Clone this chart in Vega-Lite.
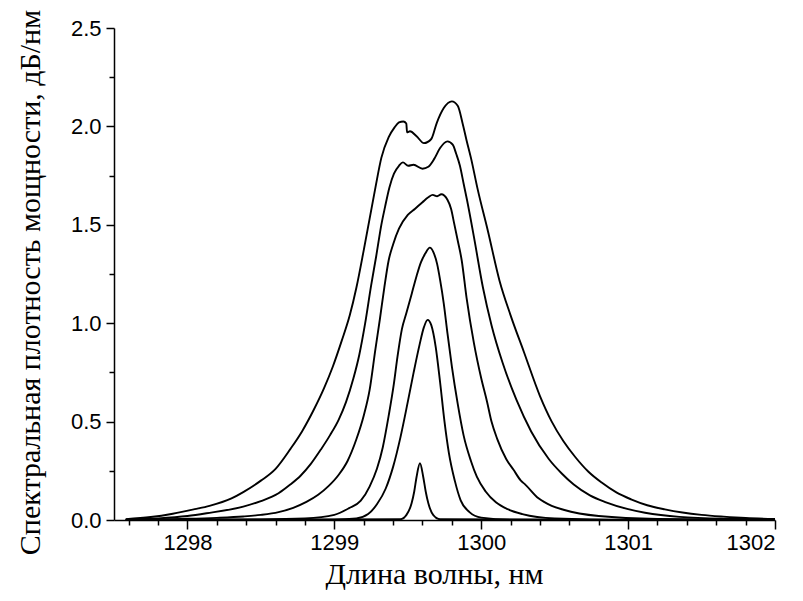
{
  "$schema": "https://vega.github.io/schema/vega-lite/v6.json",
  "width": 661,
  "height": 492,
  "autosize": {"type": "none"},
  "padding": {"left": 114, "top": 28, "right": 28, "bottom": 81},
  "background": "white",
  "config": {"view": {"stroke": null}},
  "data": {"values": [
    {"s": 6, "x": 1297.58, "y": 0.004}, {"s": 6, "x": 1297.75, "y": 0.015}, {"s": 6, "x": 1297.9, "y": 0.032}, {"s": 6, "x": 1298.05, "y": 0.055}, {"s": 6, "x": 1298.15, "y": 0.072}, {"s": 6, "x": 1298.3, "y": 0.11}, {"s": 6, "x": 1298.38, "y": 0.142}, {"s": 6, "x": 1298.5, "y": 0.2}, {"s": 6, "x": 1298.6, "y": 0.26}, {"s": 6, "x": 1298.7, "y": 0.36}, {"s": 6, "x": 1298.78, "y": 0.45}, {"s": 6, "x": 1298.86, "y": 0.56}, {"s": 6, "x": 1298.93, "y": 0.67}, {"s": 6, "x": 1298.99, "y": 0.78}, {"s": 6, "x": 1299.05, "y": 0.91}, {"s": 6, "x": 1299.105, "y": 1.04}, {"s": 6, "x": 1299.15, "y": 1.18}, {"s": 6, "x": 1299.2, "y": 1.37}, {"s": 6, "x": 1299.24, "y": 1.53}, {"s": 6, "x": 1299.28, "y": 1.69}, {"s": 6, "x": 1299.32, "y": 1.84}, {"s": 6, "x": 1299.37, "y": 1.945}, {"s": 6, "x": 1299.41, "y": 1.995}, {"s": 6, "x": 1299.44, "y": 2.02}, {"s": 6, "x": 1299.47, "y": 2.025}, {"s": 6, "x": 1299.49, "y": 2.015}, {"s": 6, "x": 1299.495, "y": 1.97}, {"s": 6, "x": 1299.515, "y": 1.975}, {"s": 6, "x": 1299.56, "y": 1.95}, {"s": 6, "x": 1299.61, "y": 1.915}, {"s": 6, "x": 1299.66, "y": 1.936}, {"s": 6, "x": 1299.697, "y": 2.017}, {"s": 6, "x": 1299.745, "y": 2.093}, {"s": 6, "x": 1299.8, "y": 2.127}, {"s": 6, "x": 1299.84, "y": 2.105}, {"s": 6, "x": 1299.875, "y": 2.01}, {"s": 6, "x": 1299.9, "y": 1.93}, {"s": 6, "x": 1299.93, "y": 1.84}, {"s": 6, "x": 1299.976, "y": 1.68}, {"s": 6, "x": 1300.045, "y": 1.47}, {"s": 6, "x": 1300.125, "y": 1.215}, {"s": 6, "x": 1300.2, "y": 1.04}, {"s": 6, "x": 1300.29, "y": 0.855}, {"s": 6, "x": 1300.4, "y": 0.63}, {"s": 6, "x": 1300.48, "y": 0.5}, {"s": 6, "x": 1300.56, "y": 0.4}, {"s": 6, "x": 1300.64, "y": 0.32}, {"s": 6, "x": 1300.73, "y": 0.245}, {"s": 6, "x": 1300.82, "y": 0.19}, {"s": 6, "x": 1300.92, "y": 0.14}, {"s": 6, "x": 1301.02, "y": 0.105}, {"s": 6, "x": 1301.13, "y": 0.075}, {"s": 6, "x": 1301.25, "y": 0.054}, {"s": 6, "x": 1301.37, "y": 0.038}, {"s": 6, "x": 1301.5, "y": 0.026}, {"s": 6, "x": 1301.65, "y": 0.017}, {"s": 6, "x": 1301.8, "y": 0.01}, {"s": 6, "x": 1302.0, "y": 0.005},
    {"s": 5, "x": 1297.58, "y": 0.002}, {"s": 5, "x": 1297.8, "y": 0.008}, {"s": 5, "x": 1298.0, "y": 0.02}, {"s": 5, "x": 1298.13, "y": 0.034}, {"s": 5, "x": 1298.38, "y": 0.068}, {"s": 5, "x": 1298.5, "y": 0.096}, {"s": 5, "x": 1298.62, "y": 0.136}, {"s": 5, "x": 1298.7, "y": 0.18}, {"s": 5, "x": 1298.77, "y": 0.225}, {"s": 5, "x": 1298.84, "y": 0.285}, {"s": 5, "x": 1298.91, "y": 0.36}, {"s": 5, "x": 1298.97, "y": 0.43}, {"s": 5, "x": 1299.03, "y": 0.51}, {"s": 5, "x": 1299.08, "y": 0.6}, {"s": 5, "x": 1299.13, "y": 0.72}, {"s": 5, "x": 1299.17, "y": 0.84}, {"s": 5, "x": 1299.21, "y": 1.0}, {"s": 5, "x": 1299.25, "y": 1.19}, {"s": 5, "x": 1299.285, "y": 1.34}, {"s": 5, "x": 1299.32, "y": 1.5}, {"s": 5, "x": 1299.345, "y": 1.59}, {"s": 5, "x": 1299.375, "y": 1.69}, {"s": 5, "x": 1299.406, "y": 1.76}, {"s": 5, "x": 1299.44, "y": 1.8}, {"s": 5, "x": 1299.467, "y": 1.817}, {"s": 5, "x": 1299.503, "y": 1.8}, {"s": 5, "x": 1299.539, "y": 1.805}, {"s": 5, "x": 1299.6, "y": 1.785}, {"s": 5, "x": 1299.64, "y": 1.795}, {"s": 5, "x": 1299.68, "y": 1.835}, {"s": 5, "x": 1299.72, "y": 1.89}, {"s": 5, "x": 1299.77, "y": 1.924}, {"s": 5, "x": 1299.806, "y": 1.907}, {"s": 5, "x": 1299.83, "y": 1.86}, {"s": 5, "x": 1299.855, "y": 1.8}, {"s": 5, "x": 1299.88, "y": 1.71}, {"s": 5, "x": 1299.903, "y": 1.627}, {"s": 5, "x": 1299.95, "y": 1.44}, {"s": 5, "x": 1300.012, "y": 1.18}, {"s": 5, "x": 1300.07, "y": 0.99}, {"s": 5, "x": 1300.145, "y": 0.8}, {"s": 5, "x": 1300.24, "y": 0.61}, {"s": 5, "x": 1300.34, "y": 0.45}, {"s": 5, "x": 1300.46, "y": 0.31}, {"s": 5, "x": 1300.55, "y": 0.235}, {"s": 5, "x": 1300.63, "y": 0.18}, {"s": 5, "x": 1300.74, "y": 0.125}, {"s": 5, "x": 1300.85, "y": 0.09}, {"s": 5, "x": 1301.0, "y": 0.055}, {"s": 5, "x": 1301.115, "y": 0.037}, {"s": 5, "x": 1301.35, "y": 0.016}, {"s": 5, "x": 1301.7, "y": 0.006}, {"s": 5, "x": 1302.0, "y": 0.003},
    {"s": 4, "x": 1297.58, "y": 0.001}, {"s": 4, "x": 1298.0, "y": 0.006}, {"s": 4, "x": 1298.2, "y": 0.011}, {"s": 4, "x": 1298.38, "y": 0.018}, {"s": 4, "x": 1298.5, "y": 0.026}, {"s": 4, "x": 1298.62, "y": 0.04}, {"s": 4, "x": 1298.72, "y": 0.062}, {"s": 4, "x": 1298.81, "y": 0.092}, {"s": 4, "x": 1298.89, "y": 0.128}, {"s": 4, "x": 1298.96, "y": 0.172}, {"s": 4, "x": 1299.03, "y": 0.23}, {"s": 4, "x": 1299.09, "y": 0.3}, {"s": 4, "x": 1299.15, "y": 0.41}, {"s": 4, "x": 1299.2, "y": 0.53}, {"s": 4, "x": 1299.24, "y": 0.66}, {"s": 4, "x": 1299.28, "y": 0.87}, {"s": 4, "x": 1299.31, "y": 1.02}, {"s": 4, "x": 1299.34, "y": 1.18}, {"s": 4, "x": 1299.37, "y": 1.32}, {"s": 4, "x": 1299.4, "y": 1.4}, {"s": 4, "x": 1299.44, "y": 1.48}, {"s": 4, "x": 1299.5, "y": 1.55}, {"s": 4, "x": 1299.55, "y": 1.582}, {"s": 4, "x": 1299.6, "y": 1.615}, {"s": 4, "x": 1299.64, "y": 1.64}, {"s": 4, "x": 1299.67, "y": 1.652}, {"s": 4, "x": 1299.7, "y": 1.645}, {"s": 4, "x": 1299.728, "y": 1.655}, {"s": 4, "x": 1299.77, "y": 1.627}, {"s": 4, "x": 1299.795, "y": 1.58}, {"s": 4, "x": 1299.815, "y": 1.51}, {"s": 4, "x": 1299.84, "y": 1.42}, {"s": 4, "x": 1299.867, "y": 1.32}, {"s": 4, "x": 1299.9, "y": 1.13}, {"s": 4, "x": 1299.95, "y": 0.9}, {"s": 4, "x": 1300.0, "y": 0.72}, {"s": 4, "x": 1300.04, "y": 0.6}, {"s": 4, "x": 1300.07, "y": 0.5}, {"s": 4, "x": 1300.11, "y": 0.41}, {"s": 4, "x": 1300.17, "y": 0.31}, {"s": 4, "x": 1300.22, "y": 0.255}, {"s": 4, "x": 1300.27, "y": 0.2}, {"s": 4, "x": 1300.3, "y": 0.18}, {"s": 4, "x": 1300.39, "y": 0.11}, {"s": 4, "x": 1300.48, "y": 0.072}, {"s": 4, "x": 1300.56, "y": 0.052}, {"s": 4, "x": 1300.8, "y": 0.02}, {"s": 4, "x": 1301.2, "y": 0.005}, {"s": 4, "x": 1302.0, "y": 0.001},
    {"s": 3, "x": 1297.58, "y": 0.0}, {"s": 3, "x": 1298.5, "y": 0.003}, {"s": 3, "x": 1298.8, "y": 0.008}, {"s": 3, "x": 1299.0, "y": 0.026}, {"s": 3, "x": 1299.1, "y": 0.06}, {"s": 3, "x": 1299.18, "y": 0.098}, {"s": 3, "x": 1299.24, "y": 0.17}, {"s": 3, "x": 1299.29, "y": 0.26}, {"s": 3, "x": 1299.33, "y": 0.37}, {"s": 3, "x": 1299.37, "y": 0.53}, {"s": 3, "x": 1299.405, "y": 0.69}, {"s": 3, "x": 1299.43, "y": 0.83}, {"s": 3, "x": 1299.46, "y": 0.97}, {"s": 3, "x": 1299.49, "y": 1.05}, {"s": 3, "x": 1299.527, "y": 1.15}, {"s": 3, "x": 1299.56, "y": 1.24}, {"s": 3, "x": 1299.59, "y": 1.31}, {"s": 3, "x": 1299.62, "y": 1.355}, {"s": 3, "x": 1299.65, "y": 1.384}, {"s": 3, "x": 1299.675, "y": 1.36}, {"s": 3, "x": 1299.7, "y": 1.3}, {"s": 3, "x": 1299.72, "y": 1.22}, {"s": 3, "x": 1299.745, "y": 1.1}, {"s": 3, "x": 1299.77, "y": 0.95}, {"s": 3, "x": 1299.8, "y": 0.78}, {"s": 3, "x": 1299.84, "y": 0.59}, {"s": 3, "x": 1299.88, "y": 0.43}, {"s": 3, "x": 1299.93, "y": 0.3}, {"s": 3, "x": 1299.97, "y": 0.22}, {"s": 3, "x": 1300.03, "y": 0.145}, {"s": 3, "x": 1300.1, "y": 0.09}, {"s": 3, "x": 1300.18, "y": 0.055}, {"s": 3, "x": 1300.28, "y": 0.03}, {"s": 3, "x": 1300.5, "y": 0.008}, {"s": 3, "x": 1301.0, "y": 0.001}, {"s": 3, "x": 1302.0, "y": 0.0},
    {"s": 2, "x": 1297.58, "y": 0.0}, {"s": 2, "x": 1299.0, "y": 0.002}, {"s": 2, "x": 1299.15, "y": 0.008}, {"s": 2, "x": 1299.23, "y": 0.03}, {"s": 2, "x": 1299.29, "y": 0.08}, {"s": 2, "x": 1299.35, "y": 0.16}, {"s": 2, "x": 1299.4, "y": 0.27}, {"s": 2, "x": 1299.45, "y": 0.42}, {"s": 2, "x": 1299.5, "y": 0.6}, {"s": 2, "x": 1299.54, "y": 0.75}, {"s": 2, "x": 1299.58, "y": 0.89}, {"s": 2, "x": 1299.61, "y": 0.98}, {"s": 2, "x": 1299.635, "y": 1.017}, {"s": 2, "x": 1299.66, "y": 0.99}, {"s": 2, "x": 1299.69, "y": 0.88}, {"s": 2, "x": 1299.72, "y": 0.7}, {"s": 2, "x": 1299.75, "y": 0.5}, {"s": 2, "x": 1299.78, "y": 0.34}, {"s": 2, "x": 1299.82, "y": 0.2}, {"s": 2, "x": 1299.86, "y": 0.1}, {"s": 2, "x": 1299.92, "y": 0.04}, {"s": 2, "x": 1300.0, "y": 0.012}, {"s": 2, "x": 1300.2, "y": 0.002}, {"s": 2, "x": 1302.0, "y": 0.0},
    {"s": 1, "x": 1297.58, "y": 0.0}, {"s": 1, "x": 1299.45, "y": 0.004}, {"s": 1, "x": 1299.49, "y": 0.025}, {"s": 1, "x": 1299.526, "y": 0.085}, {"s": 1, "x": 1299.544, "y": 0.145}, {"s": 1, "x": 1299.56, "y": 0.22}, {"s": 1, "x": 1299.583, "y": 0.288}, {"s": 1, "x": 1299.605, "y": 0.22}, {"s": 1, "x": 1299.622, "y": 0.145}, {"s": 1, "x": 1299.64, "y": 0.085}, {"s": 1, "x": 1299.674, "y": 0.025}, {"s": 1, "x": 1299.72, "y": 0.004}, {"s": 1, "x": 1302.0, "y": 0.0}
  ]},
  "resolve": {"axis": {"x": "independent", "y": "independent"}},
  "layer": [
    {
      "mark": {"type": "line", "color": "black", "strokeWidth": 1.9, "interpolate": "monotone", "clip": true},
      "encoding": {
        "detail": {"field": "s", "type": "nominal"},
        "x": {"field": "x", "type": "quantitative",
          "scale": {"domain": [1297.5, 1302], "nice": false, "zero": false},
          "axis": {"orient": "bottom", "values": [1298, 1299, 1300, 1301, 1302], "format": "d", "grid": false,
            "domainColor": "black", "domainWidth": 1.5, "tickColor": "black", "tickWidth": 1.5, "tickSize": 9,
            "labelFont": "Liberation Sans", "labelFontSize": 22, "labelColor": "black", "labelPadding": 3,
            "title": "Длина волны, нм", "titleFont": "Liberation Serif", "titleFontSize": 30, "titleFontWeight": "normal", "titleColor": "black", "titlePadding": 6, "titleX": 320}},
        "y": {"field": "y", "type": "quantitative",
          "scale": {"domain": [0, 2.5], "nice": false},
          "axis": {"orient": "left", "values": [0, 0.5, 1, 1.5, 2, 2.5], "format": ".1f", "grid": false,
            "domainColor": "black", "domainWidth": 1.5, "tickColor": "black", "tickWidth": 1.5, "tickSize": 8,
            "labelFont": "Liberation Sans", "labelFontSize": 22, "labelColor": "black", "labelPadding": 5,
            "title": "Спектральная плотность мощности, дБ/нм", "titleFont": "Liberation Serif", "titleFontSize": 30, "titleFontWeight": "normal", "titleColor": "black", "titlePadding": 25, "titleY": 254}}
      }
    },
    {
      "mark": {"type": "line", "strokeOpacity": 0},
      "encoding": {
        "detail": {"field": "s", "type": "nominal"},
        "x": {"field": "x", "type": "quantitative",
          "axis": {"orient": "bottom", "values": [1297.6, 1297.8, 1298.2, 1298.4, 1298.6, 1298.8, 1299.2, 1299.4, 1299.6, 1299.8, 1300.2, 1300.4, 1300.6, 1300.8, 1301.2, 1301.4, 1301.6, 1301.8],
            "labels": false, "domain": false, "grid": false, "tickColor": "black", "tickWidth": 1.5, "tickSize": 5, "title": null}},
        "y": {"field": "y", "type": "quantitative",
          "axis": {"orient": "left", "values": [0.25, 0.75, 1.25, 1.75, 2.25],
            "labels": false, "domain": false, "grid": false, "tickColor": "black", "tickWidth": 1.5, "tickSize": 5, "title": null}}
      }
    }
  ]
}
